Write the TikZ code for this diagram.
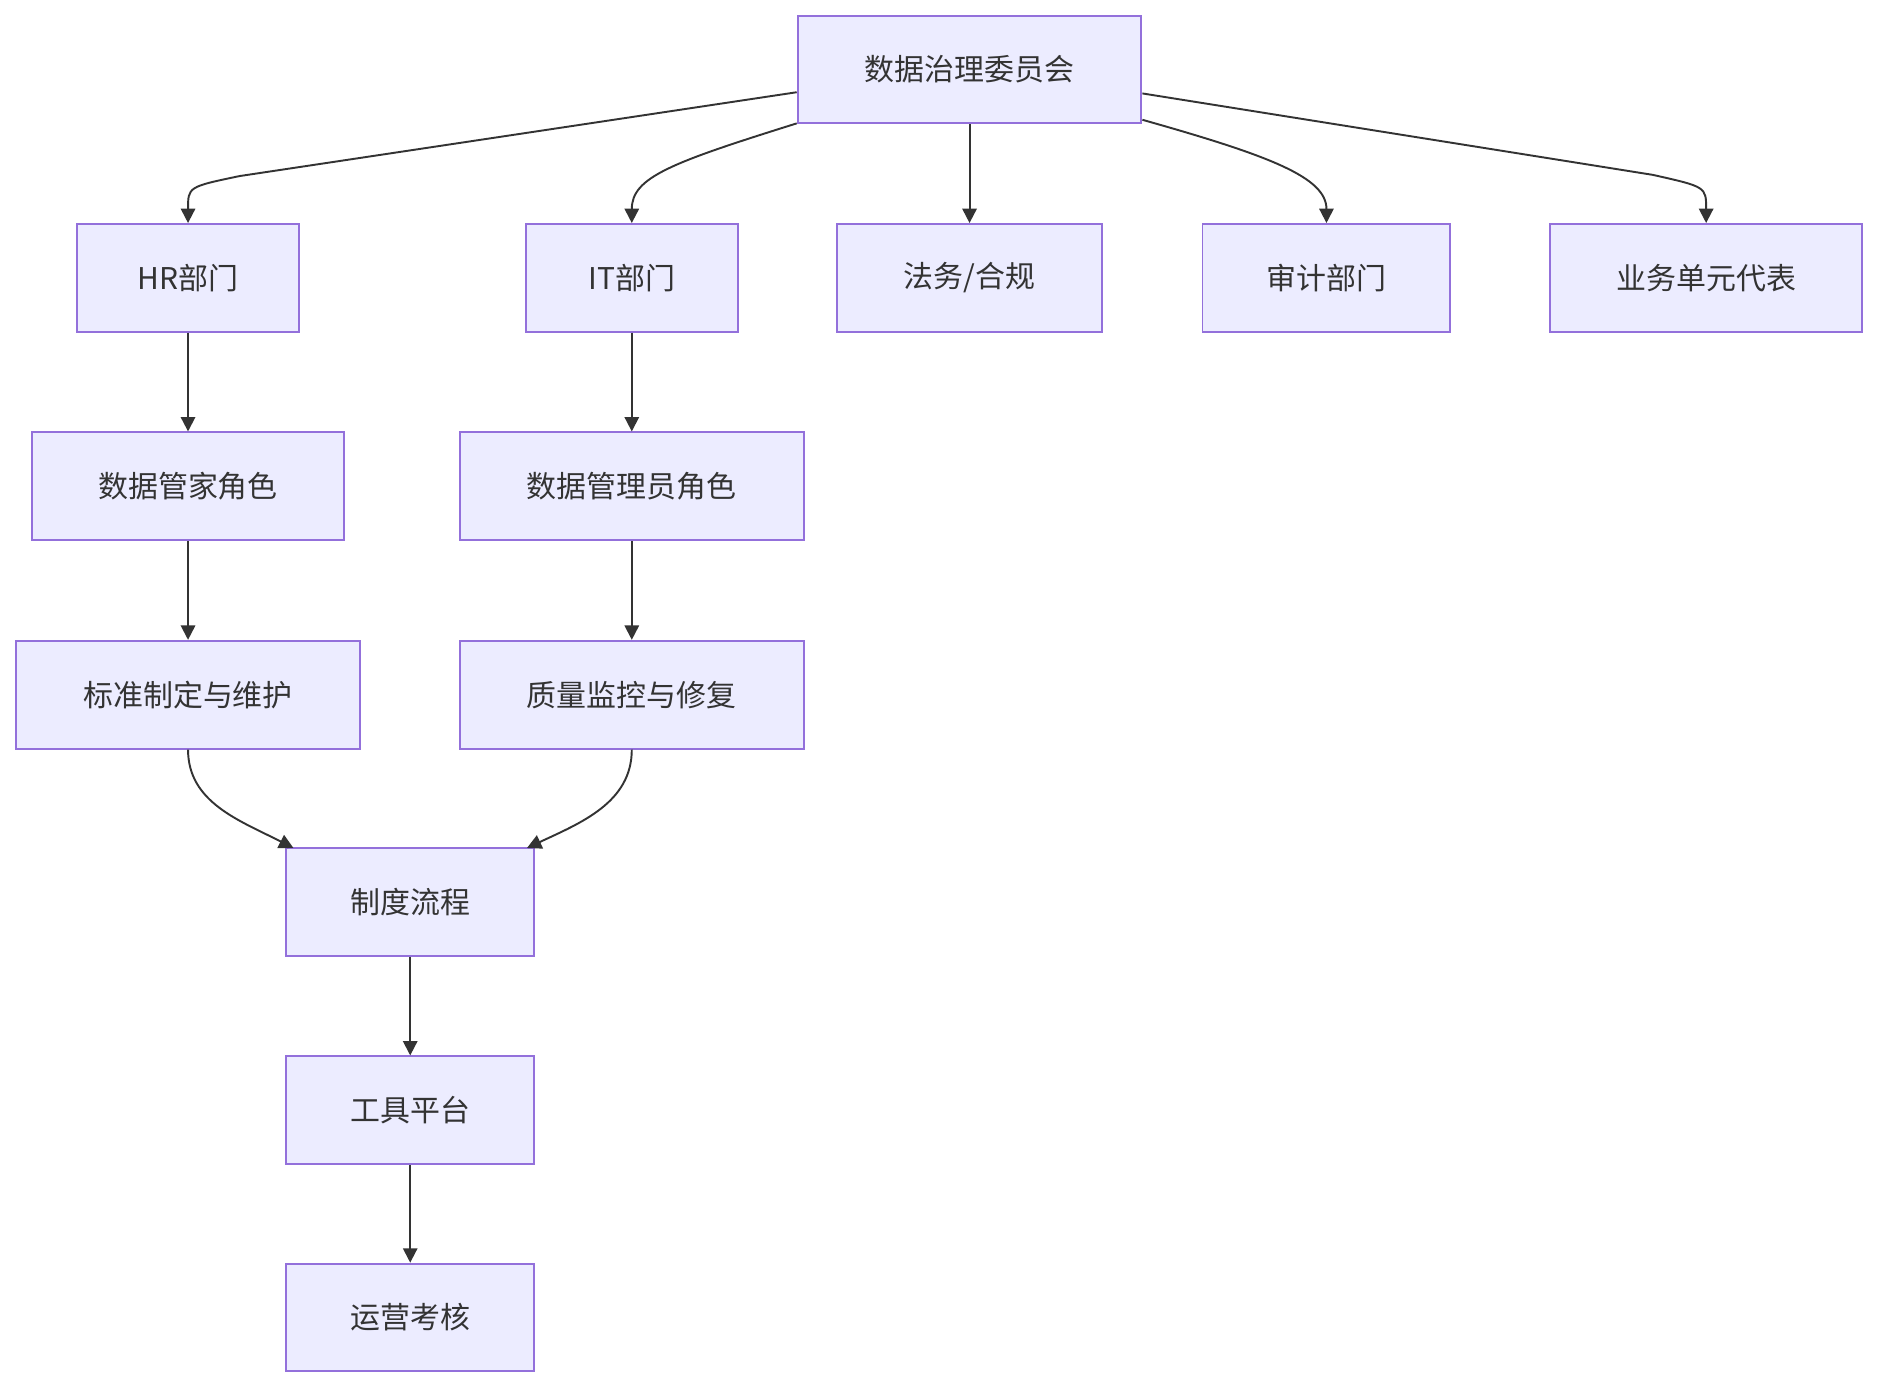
\documentclass[tikz,border=0pt]{standalone}
\usepackage{fontspec}
\setmainfont{Noto Sans CJK SC}
\usetikzlibrary{arrows.meta}
\definecolor{bfill}{HTML}{ECECFF}
\definecolor{bdraw}{HTML}{9370DB}
\definecolor{ln}{HTML}{333333}
\begin{document}
\begin{tikzpicture}[x=0.5pt,y=-0.5pt,
  box/.style={draw=bdraw,fill=bfill,line width=0.8pt,minimum height=45pt,inner sep=0pt,font=\fontsize{12.5}{15}\selectfont,text=ln},
  ar/.style={draw=ln,line width=0.8pt,-{Triangle[length=6pt,width=6pt]}}]
\useasboundingbox[fill=white] (0,0) rectangle (1568,1158);
\node[box,minimum width=143.5pt] (top) at (809.5,58) {数据治理委员会};
\node[box,minimum width=93pt] (hr) at (157,232) {HR部门};
\node[box,minimum width=88.5pt] (it) at (527.5,232) {IT部门};
\node[box,minimum width=110.5pt] (law) at (809.5,232) {法务/合规};
\node[box,minimum width=103.5pt] (aud) at (1107.5,232) {审计部门};
\node[box,minimum width=130.5pt] (bus) at (1424.5,232) {业务单元代表};
\node[box,minimum width=130pt] (stw) at (157,406) {数据管家角色};
\node[box,minimum width=143.5pt] (adm) at (527.5,406) {数据管理员角色};
\node[box,minimum width=143.5pt] (std) at (157,580) {标准制定与维护};
\node[box,minimum width=143.5pt] (qm) at (527.5,580) {质量监控与修复};
\node[box,minimum width=103.5pt] (pol) at (342.5,753) {制度流程};
\node[box,minimum width=103.5pt] (tool) at (342.5,927) {工具平台};
\node[box,minimum width=103.5pt] (ops) at (342.5,1100) {运营考核};
\draw[ar] ([yshift=-9.5pt]top.west) -- (200,147) .. controls (157,156) .. (hr.north);
\draw[ar] ([yshift=-22.5pt]top.west) .. controls (560,136) and (527.5,148) .. (it.north);
\draw[ar] (top.south) -- (law.north);
\draw[ar] ([yshift=-21pt]top.east) .. controls (1060,130) and (1107.5,148) .. (aud.north);
\draw[ar] ([yshift=-10pt]top.east) -- (1380,146) .. controls (1424.5,156) .. (bus.north);
\draw[ar] (hr) -- (stw);
\draw[ar] (it) -- (adm);
\draw[ar] (stw) -- (std);
\draw[ar] (adm) -- (qm);
\draw[ar] (std.south) .. controls (157,670) and (200,685) .. (245,708);
\draw[ar] (qm.south) .. controls (527.5,670) and (485,687) .. (440,708);
\draw[ar] (pol) -- (tool);
\draw[ar] (tool) -- (ops);
\end{tikzpicture}
\end{document}
